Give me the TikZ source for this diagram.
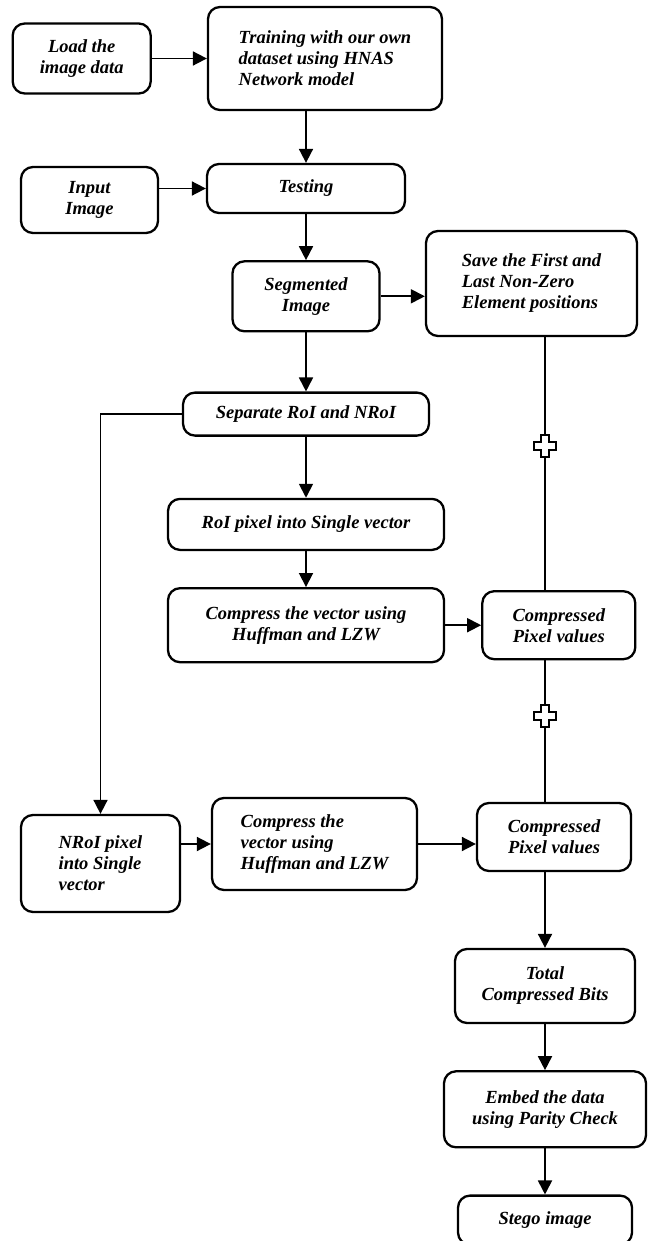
\documentclass[tikz,border=0pt]{standalone}
\usepackage{fontspec}
\setmainfont{Liberation Serif}
\usetikzlibrary{positioning, arrows.meta}

\tikzset{
  box/.style={draw, line width=2.3pt, rounded corners=12pt, align=center, inner sep=0pt,
    font=\fontsize{18.5}{21}\selectfont\bfseries\itshape},
  link/.style={line width=1.8pt},
  arr/.style={link, -{Triangle[length=14pt,width=14pt]}},
  pluscross/.pic={
    \draw[fill=white, line width=1.6pt] (-4,-11) -- (4,-11) -- (4,-4) -- (11,-4) -- (11,4) -- (4,4)
      -- (4,11) -- (-4,11) -- (-4,4) -- (-11,4) -- (-11,-4) -- (-4,-4) -- cycle;
  }
}

\begin{document}
\begin{tikzpicture}[x=1pt, y=-1pt]
  \useasboundingbox (0,0) rectangle (650,1241);

  \node[box, align=left, minimum width=234pt, minimum height=103pt] (train) at (325,58.5) {Training with our own\\dataset using HNAS\\Network model};
  \node[box, minimum width=138pt, minimum height=70pt, left = 55pt of train] (load) {Load the\\image data};
  \node[box, minimum width=198pt, minimum height=49pt] (testing) at (306,188.5) {Testing};
  \node[box, minimum width=137pt, minimum height=66pt] (input) at (89.5,200) {Input\\Image};
  \node[box, minimum width=147pt, minimum height=70pt, below = 46pt of testing] (seg) {Segmented\\Image};
  \node[box, align=left, minimum width=211pt, minimum height=105pt] (save) at (531.5,283.5) {Save the First and\\Last Non-Zero\\Element positions};
  \node[box, minimum width=246pt, minimum height=43pt, below = 59pt of seg] (sep) {Separate RoI and NRoI};
  \node[box, minimum width=276pt, minimum height=51pt, below = 61pt of sep] (roi) {RoI pixel into Single vector};
  \node[box, minimum width=276pt, minimum height=74pt, below = 36pt of roi] (compA) {Compress the vector using\\Huffman and LZW};
  \node[box, minimum width=153pt, minimum height=68pt, right = 36pt of compA] (cpxA) {Compressed\\Pixel values};
  \node[box, align=left, minimum width=159pt, minimum height=97pt] (nroi) at (100.5,863.5) {NRoI pixel\\into Single\\vector};
  \node[box, align=left, minimum width=205pt, minimum height=92pt] (compB) at (314.5,844) {Compress the\\vector using\\Huffman and LZW};
  \node[box, minimum width=154pt, minimum height=68pt] (cpxB) at (554,837) {Compressed\\Pixel values};
  \node[box, minimum width=180pt, minimum height=74pt] (total) at (545,986) {Total\\Compressed Bits};
  \node[box, minimum width=202pt, minimum height=76pt, below = 46pt of total] (embed) {Embed the data\\using Parity Check};
  \node[box, minimum width=174pt, minimum height=49pt, below = 46pt of embed] (stego) {Stego image};

  \draw[arr] (load) -- (train);
  \draw[arr] (train.south -| testing) -- (testing);
  \draw[arr] (input.east |- testing) -- (testing.west);
  \draw[arr] (testing) -- (seg);
  \draw[arr] (seg) -- (seg -| save.west);
  \draw[arr] (seg) -- (sep);
  \draw[arr] (sep) -- (roi);
  \draw[arr] (roi) -- (compA);
  \draw[arr] (compA) -- (cpxA);
  \draw[arr] (sep.west) -| (nroi.north);
  \draw[arr] (nroi.east |- compB) -- (compB.west);
  \draw[arr] (compB) -- (compB -| cpxB.west);
  \draw[link] (save.south -| total) -- (cpxA.north -| total);
  \draw[link] (cpxA.south -| total) -- (cpxB.north -| total);
  \draw[arr] (cpxB.south -| total) -- (total);
  \draw[arr] (total) -- (embed);
  \draw[arr] (embed) -- (stego);

  \pic at (545,446) {pluscross};
  \pic at (545,716) {pluscross};
\end{tikzpicture}
\end{document}
